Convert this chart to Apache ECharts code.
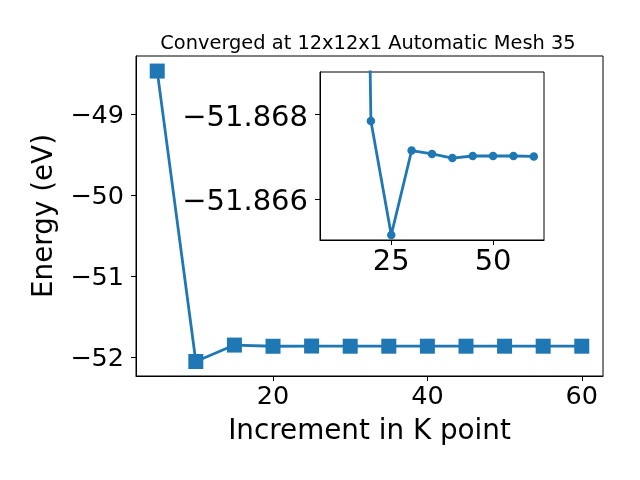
<!DOCTYPE html>
<html>
<head>
<meta charset="utf-8">
<script src="https://cdn.jsdelivr.net/npm/echarts@6/dist/echarts.min.js"></script>
<style>html,body{margin:0;padding:0;background:#fff}#c{width:640px;height:480px}</style>
</head>
<body>
<div id="c"></div>
<script>
// Main plot data
const kPoints = [5, 10, 15, 20, 25, 30, 35, 40, 45, 50, 55, 60];
const energies = [-48.47, -52.056, -51.853, -51.8679, -51.8652, -51.8672, -51.8671, -51.8670, -51.8670, -51.8670, -51.8670, -51.8670];
const mainXTicks = [20, 40, 60];
const mainYTicks = [-52, -51, -50, -49];

// Inset data (as drawn in the inset, inverted y axis)
const insetK = [10, 15, 20, 25, 30, 35, 40, 45, 50, 55, 60];
const insetE = [-52.05, -51.90, -51.86785, -51.86515, -51.86715, -51.86707, -51.86697, -51.86702, -51.86702, -51.86702, -51.86701];
const insetXTicks = [25, 50];
const insetYTicks = [-51.868, -51.866];

const titleText = 'Converged at 12x12x1 Automatic Mesh 35';
const xName = 'Increment in K point';
const yName = 'Energy (eV)';

const FONT = 'DejaVu Sans';
const BLUE = '#1f77b4';
const minus = s => String(s).replace('-', '\u2212');

const chart = echarts.init(document.getElementById('c'), null, {renderer: 'canvas'});
const axisCommon = {
  axisLine: {show: true, onZero: false, lineStyle: {color: '#000', width: 1}},
  axisTick: {show: true, inside: false, length: 5, lineStyle: {color: '#000', width: 1}},
  splitLine: {show: false}
};
chart.setOption({
  animation: false,
  backgroundColor: '#fff',
  title: {
    text: titleText, left: 363, textAlign: 'center', top: 29,
    textStyle: {fontFamily: FONT, fontSize: 19.4, fontWeight: 'normal', color: '#000'}
  },
  grid: [
    {left: 136, right: 37, top: 56, bottom: 104, show: true, borderColor: '#000', borderWidth: 1, backgroundColor: 'transparent'},
    {left: 320, top: 72, width: 224, height: 168, show: true, borderColor: '#000', borderWidth: 1, backgroundColor: '#fff', z: 5}
  ],
  xAxis: [
    Object.assign({}, axisCommon, {
      gridIndex: 0, type: 'value', min: 2.25, max: 62.75,
      name: xName, nameLocation: 'middle', nameGap: 42,
      nameTextStyle: {fontFamily: FONT, fontSize: 27.8, color: '#000'},
      axisTick: Object.assign({}, axisCommon.axisTick, {customValues: mainXTicks}),
      axisLabel: {customValues: mainXTicks, fontFamily: FONT, fontSize: 25.5, color: '#000', margin: 8, formatter: v => minus(v)}
    }),
    Object.assign({}, axisCommon, {
      gridIndex: 1, type: 'value', min: 7.5, max: 62.5, z: 6,
      axisTick: Object.assign({}, axisCommon.axisTick, {customValues: insetXTicks}),
      axisLabel: {customValues: insetXTicks, fontFamily: FONT, fontSize: 29, color: '#000', margin: 8, formatter: v => minus(v)}
    })
  ],
  yAxis: [
    Object.assign({}, axisCommon, {
      gridIndex: 0, type: 'value', min: -52.235, max: -48.284,
      name: yName, nameLocation: 'middle', nameGap: 77,
      nameTextStyle: {fontFamily: FONT, fontSize: 27.8, color: '#000'},
      axisTick: Object.assign({}, axisCommon.axisTick, {customValues: mainYTicks}),
      axisLabel: {customValues: mainYTicks, color: '#000', margin: 12,
        formatter: v => '{t|' + minus(v) + '}',
        rich: {t: {fontFamily: FONT, fontSize: 25.5, color: '#000', padding: [5, 0, 0, 0]}}}
    }),
    Object.assign({}, axisCommon, {
      gridIndex: 1, type: 'value', min: -51.86901, max: -51.86503, inverse: true, z: 6,
      axisTick: Object.assign({}, axisCommon.axisTick, {customValues: insetYTicks}),
      axisLabel: {customValues: insetYTicks, color: '#000', margin: 12,
        formatter: v => '{t|' + minus(Number(v).toFixed(3)) + '}',
        rich: {t: {fontFamily: FONT, fontSize: 29, color: '#000', padding: [7, 0, 0, 0]}}}
    })
  ],
  series: [
    {
      type: 'line', xAxisIndex: 0, yAxisIndex: 0,
      data: kPoints.map((k, i) => [k, energies[i]]),
      symbol: 'rect', symbolSize: 15,
      lineStyle: {color: BLUE, width: 2.8},
      itemStyle: {color: BLUE},
      z: 2
    },
    {
      type: 'line', xAxisIndex: 1, yAxisIndex: 1,
      data: insetK.map((k, i) => [k, insetE[i]]),
      symbol: 'circle', symbolSize: 8.5, showAllSymbol: true,
      lineStyle: {color: BLUE, width: 2.8},
      itemStyle: {color: BLUE},
      clip: true, z: 7
    }
  ]
});
</script>
</body>
</html>
